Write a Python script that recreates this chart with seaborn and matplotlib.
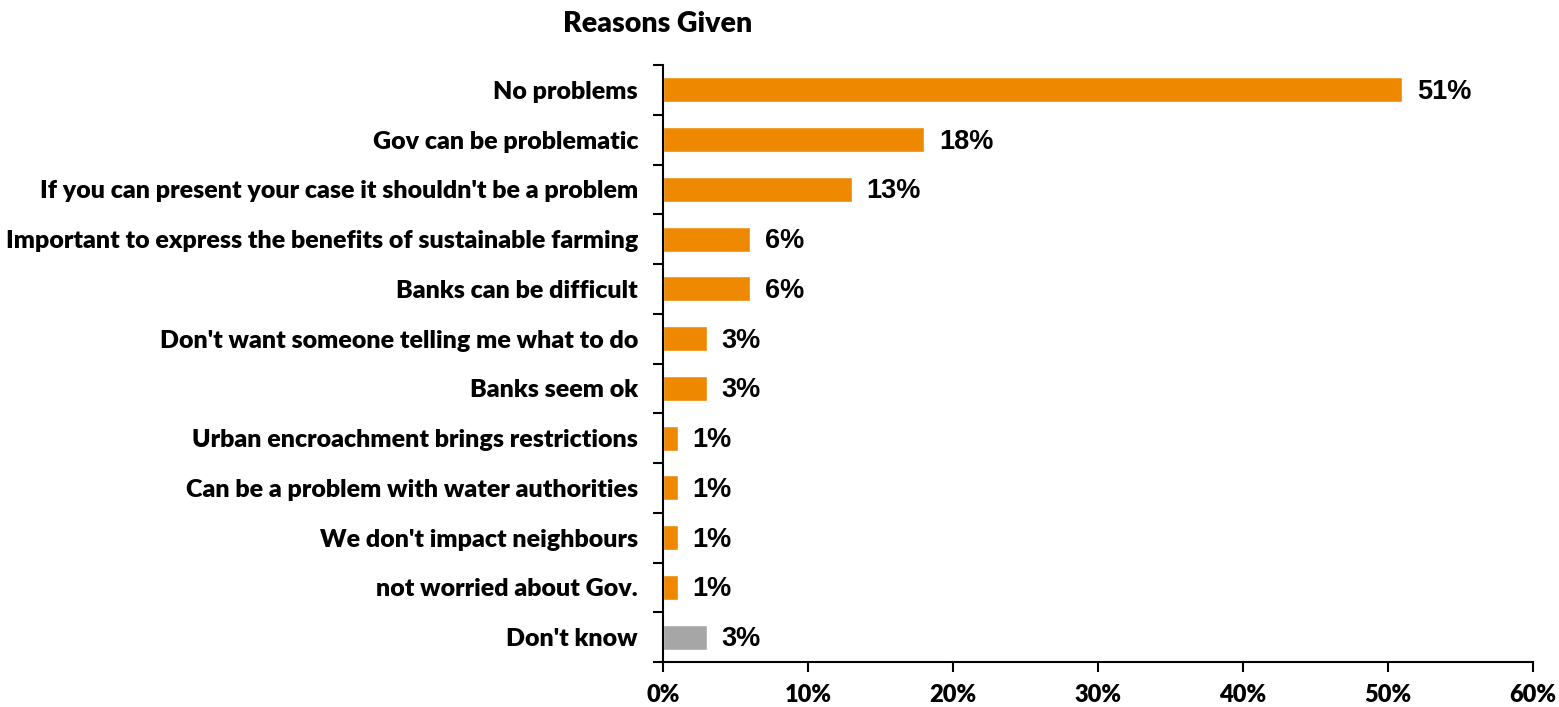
import matplotlib
matplotlib.use("Agg")
import matplotlib.pyplot as plt
import seaborn as sns
import pandas as pd
import numpy as np

categories = [
    "No problems",
    "Gov can be problematic",
    "If you can present your case it shouldn't be a problem",
    "Important to express the benefits of sustainable farming",
    "Banks can be difficult",
    "Don't want someone telling me what to do",
    "Banks seem ok",
    "Urban encroachment brings restrictions",
    "Can be a problem with water authorities",
    "We don't impact neighbours",
    "not worried about Gov.",
    "Don't know",
]
values = [51, 18, 13, 6, 6, 3, 3, 1, 1, 1, 1, 3]
groups = ["reason"] * 11 + ["dk"]
x_ticks = [0, 10, 20, 30, 40, 50, 60]

df = pd.DataFrame({"cat": categories, "val": values, "grp": groups})

sns.set_theme(style="white")
plt.rcParams["font.family"] = ["Lato", "DejaVu Sans"]
plt.rcParams["text.color"] = "black"
plt.rcParams["xtick.color"] = "black"
plt.rcParams["ytick.color"] = "black"

fig = plt.figure(figsize=(15.59, 7.07), dpi=100)
ax = fig.add_axes([0.4253, 0.0636, 0.5580, 0.8444])

sns.barplot(data=df, y="cat", x="val", hue="grp", orient="h",
            palette={"reason": "#EE8800", "dk": "#A6A6A6"},
            dodge=False, width=0.5, legend=False, ax=ax, saturation=1)

ax.set_xlim(0, 60)
ax.set_ylim(len(categories) - 0.5, -0.5)
ax.set_xticks(x_ticks)
ax.set_xticklabels([f"{t}%" for t in x_ticks], fontsize=17, fontweight="heavy")
ax.set_yticks(range(len(categories)))
ax.set_yticklabels(categories, fontsize=18, fontweight="heavy")
ax.tick_params(axis="y", which="major", length=0, pad=18)
ax.set_yticks(np.arange(-0.5, len(categories), 1), minor=True)
ax.tick_params(axis="y", which="minor", length=7, width=1.5, color="black", direction="out", left=True)
ax.tick_params(axis="x", which="major", length=7, width=1.5, color="black", direction="out", bottom=True, pad=9)
ax.set_xlabel("")
ax.set_ylabel("")

for s in ["top", "right"]:
    ax.spines[s].set_visible(False)
for s in ["left", "bottom"]:
    ax.spines[s].set_color("black")
    ax.spines[s].set_linewidth(1.5)

for i, v in enumerate(values):
    ax.annotate(f"{v}%", xy=(v, i), xytext=(15, -2), textcoords="offset pixels",
                ha="left", va="center", fontsize=19.5, fontweight="bold",
                family=["Liberation Sans", "DejaVu Sans"], color="black")

fig.text(0.422, 0.966, "Reasons Given", ha="center", va="center",
         fontsize=20.5, fontweight="heavy")

fig.savefig("out.png", dpi=100)
